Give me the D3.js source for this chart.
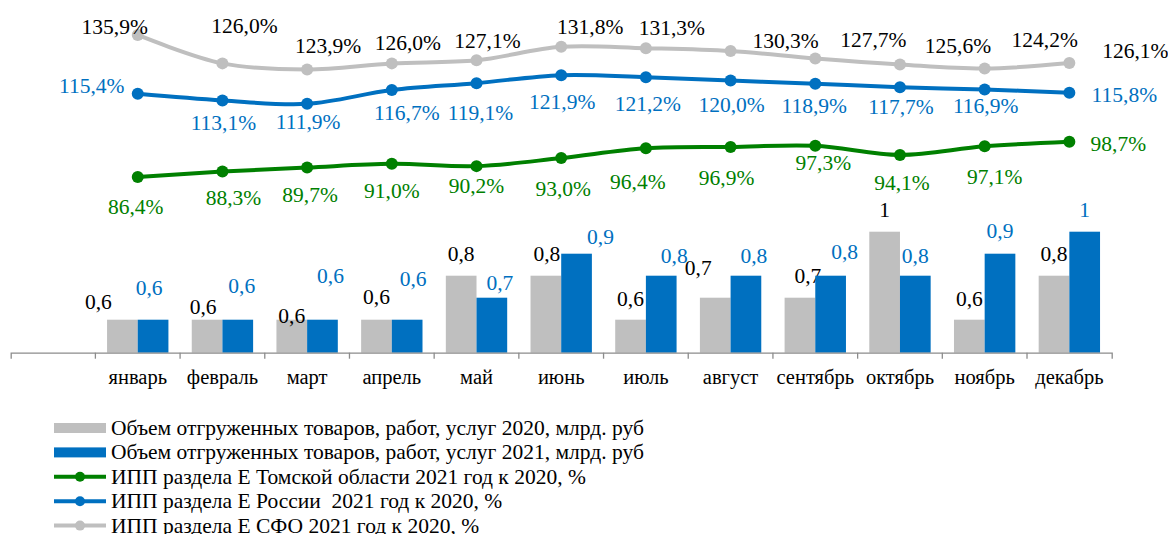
<!DOCTYPE html>
<html>
<head>
<meta charset="utf-8">
<script src="https://cdn.jsdelivr.net/npm/d3@7"></script>
<style>
  body { margin: 0; background: #fff; }
  svg { display: block; }
  text { font-family: "Liberation Serif", "Times New Roman", serif; }
</style>
</head>
<body>
<div id="chart"></div>
<script>
// categories
var months = ["январь", "февраль", "март", "апрель", "май", "июнь",
	"июль", "август", "сентябрь", "октябрь", "ноябрь", "декабрь"];

// bars, млрд. руб
var shipped2020 = [0.6, 0.6, 0.6, 0.6, 0.8, 0.8, 0.6, 0.7, 0.7, 1.0, 0.6, 0.8];
var shipped2021 = [0.6, 0.6, 0.6, 0.6, 0.7, 0.9, 0.8, 0.8, 0.8, 0.8, 0.9, 1.0];

// lines, %
var ippTomsk  = [86.4, 88.3, 89.7, 91.0, 90.2, 93.0, 96.4, 96.9, 97.3, 94.1, 97.1, 98.7];
var ippRussia = [115.4, 113.1, 111.9, 116.7, 119.1, 121.9, 121.2, 120.0, 118.9, 117.7, 116.9, 115.8];
var ippSfo    = [135.9, 126.0, 123.9, 126.0, 127.1, 131.8, 131.3, 130.3, 127.7, 125.6, 124.2, 126.1];

var legendNames = [
	"Объем отгруженных товаров, работ, услуг 2020, млрд. руб",
	"Объем отгруженных товаров, работ, услуг 2021, млрд. руб",
	"ИПП раздела Е Томской области 2021 год к 2020, %",
	"ИПП раздела Е России  2021 год к 2020, %",
	"ИПП раздела Е СФО 2021 год к 2020, %"
];

// hand-placed label nudges (as in the source chart), [dx, dy] from the point
var sfoShift    = [[-23,-8],[22,-38],[21,-24],[16,-21],[11,-20],[29,-20],[26,-21],[55,-11],[58,-19],[58,-19],[60,-29],[66,-13]];
var russiaShift = [[-46,-8],[1,22],[1,18],[15,22],[4,29],[1,26],[2,26],[1,24],[-1,22],[1,19],[1,16],[55,2]];
var tomskShift  = [[-2,29],[11,26],[3,27],[0,27],[0,19],[2,30],[-8,33],[-4,31],[8,17],[2,28],[10,30],[49,2]];
var bar20Shift  = [[-24,-18],[-4,-13],[0,-4],[0,-23],[0,-22],[1,-22],[0,-21],[-17,-30],[8,-22],[0,-22],[0,-21],[0,-22]];
var bar21Shift  = [[-4,-32],[4,-34],[8,-44],[6,-41],[8,-15],[24,-17],[13,-20],[8,-20],[14,-24],[0,-20],[0,-23],[0,-22]];

var W = 1168, H = 534;
var GRAY = "#bfbfbf", BLUE = "#0070c0", GREEN = "#008000";

var ru = d3.formatLocale({decimal: ",", thousands: " ", grouping: [3], currency: ["", " руб"]});
var fmtBar = ru.format(".1~f");
var fmtPct = function(v) { return ru.format(".1f")(v) + "%"; };

var svg = d3.select("#chart").append("svg")
	.attr("width", W)
	.attr("height", H);

svg.append("rect").attr("width", W).attr("height", H).attr("fill", "#fff");

// first band is left empty, like in the original
var x = d3.scaleBand()
	.domain([""].concat(months))
	.range([10.7, 1111.7])
	.padding(0);

var xSub = d3.scaleBand()
	.domain(["2020", "2021"])
	.range([0, x.bandwidth()])
	.paddingInner(0)
	.paddingOuter(0.38);

var baseY = 352.7;
var yBar = d3.scaleLinear().domain([0.45, 1.0]).range([baseY, 231.7]);
var yLine = d3.scaleLinear().domain([80, 140]).range([195.4, 23.2]);

function cx(i) { return x(months[i]) + x.bandwidth() / 2; }

// bars
var barSeries = [
	{key: "2020", values: shipped2020, color: GRAY, text: "#000", shift: bar20Shift},
	{key: "2021", values: shipped2021, color: BLUE, text: BLUE, shift: bar21Shift}
];

var groups = svg.append("g").attr("class", "bars")
	.selectAll("g")
	.data(barSeries)
	.enter().append("g");

groups.selectAll("rect")
	.data(function(s) { return s.values.map(function(v, i) { return {v: v, i: i, s: s}; }); })
	.enter().append("rect")
	.attr("x", function(d) { return x(months[d.i]) + xSub(d.s.key); })
	.attr("y", function(d) { return yBar(d.v); })
	.attr("width", xSub.bandwidth())
	.attr("height", function(d) { return baseY - yBar(d.v); })
	.attr("fill", function(d) { return d.s.color; });

groups.selectAll("text")
	.data(function(s) { return s.values.map(function(v, i) { return {v: v, i: i, s: s}; }); })
	.enter().append("text")
	.attr("x", function(d) { return x(months[d.i]) + xSub(d.s.key) + xSub.bandwidth() / 2 + d.s.shift[d.i][0]; })
	.attr("y", function(d) { return yBar(d.v) + d.s.shift[d.i][1]; })
	.attr("dy", "0.35em")
	.attr("text-anchor", "middle")
	.attr("font-size", 21.5)
	.attr("fill", function(d) { return d.s.text; })
	.text(function(d) { return fmtBar(d.v); });

// axis
var axis = svg.append("g").attr("class", "axis")
	.attr("transform", "translate(0," + baseY + ")")
	.call(d3.axisBottom(x).tickSizeInner(0).tickSizeOuter(6));

axis.select(".domain").attr("stroke", "#8c8c8c").attr("stroke-width", 1.3);
axis.selectAll(".tick text")
	.attr("y", 31)
	.attr("dy", null)
	.attr("font-size", 20.5)
	.attr("font-family", "Liberation Serif, serif")
	.attr("fill", "#000");

axis.selectAll("line.sep")
	.data(d3.range(1, months.length + 1))
	.enter().append("line")
	.attr("class", "sep")
	.attr("x1", function(k) { return x.range()[0] + k * x.step(); })
	.attr("x2", function(k) { return x.range()[0] + k * x.step(); })
	.attr("y1", 0)
	.attr("y2", 6)
	.attr("stroke", "#8c8c8c")
	.attr("stroke-width", 1.3);

// lines
var lineSeries = [
	{values: ippSfo, color: GRAY, text: "#000", shift: sfoShift},
	{values: ippRussia, color: BLUE, text: BLUE, shift: russiaShift},
	{values: ippTomsk, color: GREEN, text: GREEN, shift: tomskShift}
];

var line = d3.line()
	.x(function(d, i) { return cx(i); })
	.y(function(d) { return yLine(d); })
	.curve(d3.curveCatmullRom.alpha(0.5));

var ls = svg.append("g").attr("class", "lines")
	.selectAll("g")
	.data(lineSeries)
	.enter().append("g");

ls.append("path")
	.attr("d", function(s) { return line(s.values); })
	.attr("fill", "none")
	.attr("stroke", function(s) { return s.color; })
	.attr("stroke-width", 4);

ls.selectAll("circle")
	.data(function(s) { return s.values.map(function(v, i) { return {v: v, i: i, s: s}; }); })
	.enter().append("circle")
	.attr("cx", function(d) { return cx(d.i); })
	.attr("cy", function(d) { return yLine(d.v); })
	.attr("r", 6)
	.attr("fill", function(d) { return d.s.color; });

ls.selectAll("text")
	.data(function(s) { return s.values.map(function(v, i) { return {v: v, i: i, s: s}; }); })
	.enter().append("text")
	.attr("x", function(d) { return cx(d.i) + d.s.shift[d.i][0]; })
	.attr("y", function(d) { return yLine(d.v) + d.s.shift[d.i][1]; })
	.attr("dy", "0.35em")
	.attr("text-anchor", "middle")
	.attr("font-size", 21.5)
	.attr("fill", function(d) { return d.s.text; })
	.text(function(d) { return fmtPct(d.v); });

// legend
var legendKinds = [
	{kind: "rect", color: GRAY},
	{kind: "rect", color: BLUE},
	{kind: "line", color: GREEN},
	{kind: "line", color: BLUE},
	{kind: "line", color: GRAY}
];

var legend = svg.append("g").attr("class", "legend")
	.selectAll("g")
	.data(legendNames)
	.enter().append("g")
	.attr("transform", function(d, i) { return "translate(54," + (428 + i * 24.4) + ")"; });

legend.each(function(d, i) {
	var g = d3.select(this);
	var k = legendKinds[i];
	if (k.kind == "rect") {
		g.append("rect")
			.attr("x", 0).attr("y", -5)
			.attr("width", 52).attr("height", 10)
			.attr("fill", k.color);
	} else {
		g.append("line")
			.attr("x1", 0).attr("x2", 52)
			.attr("stroke", k.color)
			.attr("stroke-width", 4);
		g.append("circle")
			.attr("cx", 26).attr("r", 5)
			.attr("fill", k.color);
	}
	g.append("text")
		.attr("x", 57)
		.attr("y", 7)
		.attr("font-size", 21.5)
		.attr("fill", "#000")
		.attr("xml:space", "preserve")
		.style("white-space", "pre")
		.text(d);
});
</script>
</body>
</html>
